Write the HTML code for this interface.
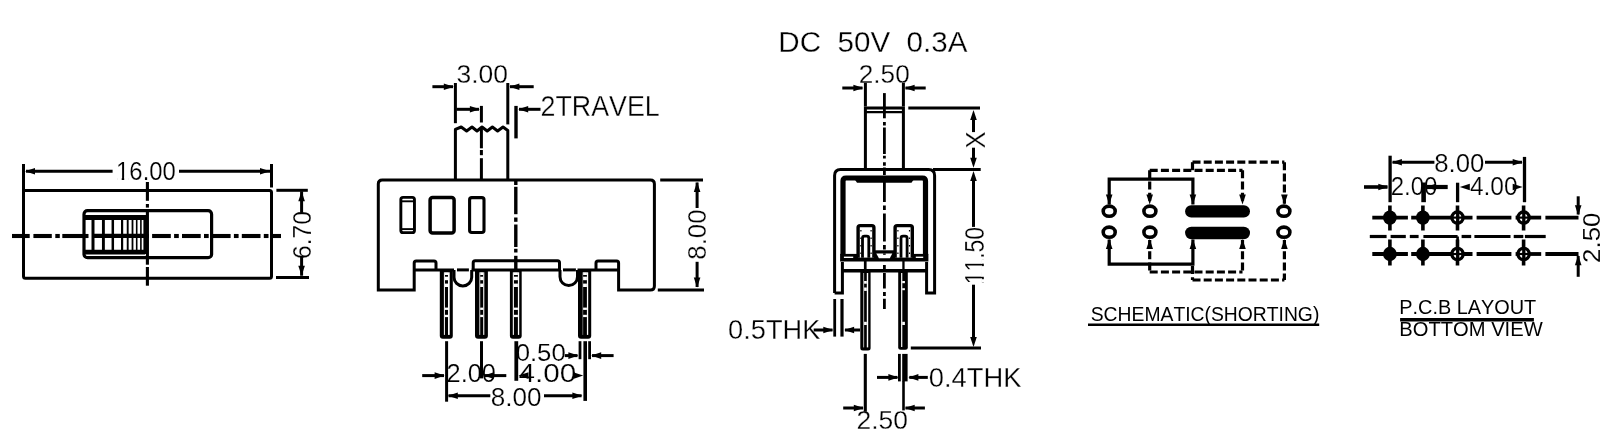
<!DOCTYPE html>
<html><head><meta charset="utf-8"><style>
html,body{margin:0;padding:0;background:#fff;width:1606px;height:437px;overflow:hidden}
svg{display:block;will-change:transform}
text{font-family:"Liberation Sans",sans-serif;fill:#000;stroke:#fff;font-kerning:none}
</style></head><body>
<svg width="1606" height="437" viewBox="0 0 1606 437" stroke="#000" fill="none" stroke-linecap="butt">
<rect x="0" y="0" width="1606" height="437" fill="#fff" stroke="none"/>
<text transform="translate(116.09,179.95) scale(0.9519,1)" font-size="25.07" stroke-width="0.18">16.00</text>
<text transform="translate(310.85,259.03) rotate(-90) scale(0.9680,1)" font-size="25.49" stroke-width="0.21">6.70</text>
<text transform="translate(456.44,82.94) scale(1.0104,1)" font-size="26.20" stroke-width="0.25">3.00</text>
<text transform="translate(540.56,115.60) scale(0.9384,1)" font-size="28.57" stroke-width="0.30">2TRAVEL</text>
<text transform="translate(515.67,360.85) scale(1.0376,1)" font-size="24.79" stroke-width="0.17">0.50</text>
<text transform="translate(446.53,381.64) scale(0.9813,1)" font-size="25.92" stroke-width="0.23">2.00</text>
<text transform="translate(518.51,381.64) scale(1.1454,1)" font-size="25.92" stroke-width="0.23">4.00</text>
<text transform="translate(490.86,405.74) scale(1.0015,1)" font-size="26.06" stroke-width="0.24">8.00</text>
<text transform="translate(705.74,259.63) rotate(-90) scale(0.9734,1)" font-size="26.48" stroke-width="0.27">8.00</text>
<text transform="translate(778.33,52.20) scale(0.9726,1)" font-size="30.42" stroke-width="0.30">DC&#160;&#160;50V&#160;&#160;0.3A</text>
<text transform="translate(858.79,82.54) scale(0.9888,1)" font-size="26.48" stroke-width="0.27">2.50</text>
<text transform="translate(985.30,148.47) rotate(-90) scale(0.9143,1)" font-size="27.97" stroke-width="0.30">X</text>
<text transform="translate(983.93,284.24) rotate(-90) scale(0.8440,1)" font-size="27.18" stroke-width="0.30">11.50</text>
<text transform="translate(728.11,338.62) scale(0.9611,1)" font-size="28.31" stroke-width="0.30">0.5THK</text>
<text transform="translate(928.71,386.62) scale(0.9761,1)" font-size="28.03" stroke-width="0.30">0.4THK</text>
<text transform="translate(856.58,428.84) scale(1.0043,1)" font-size="26.34" stroke-width="0.26">2.50</text>
<text transform="translate(1090.73,320.50) scale(0.9801,1)" font-size="19.72" stroke-width="0.00">SCHEMATIC(SHORTING)</text>
<text transform="translate(1434.27,171.54) scale(0.9946,1)" font-size="25.92" stroke-width="0.23">8.00</text>
<text transform="translate(1390.70,194.84) scale(0.9203,1)" font-size="26.06" stroke-width="0.24">2.00</text>
<text transform="translate(1469.91,194.84) scale(0.9422,1)" font-size="26.06" stroke-width="0.24">4.00</text>
<text transform="translate(1600.16,262.89) rotate(-90) scale(1.0906,1)" font-size="23.66" stroke-width="0.10">2.50</text>
<text transform="translate(1399.31,313.60) scale(1.0012,1)" font-size="19.86" stroke-width="0.00">P.C.B LAYOUT</text>
<text transform="translate(1399.29,335.89) scale(0.9809,1)" font-size="20.56" stroke-width="0.00">BOTTOM VIEW</text>
<path d="M23.5,164 V276.2 Q23.5,278.2 25.5,278.2 H269.5 Q271.5,278.2 271.5,276.2 V192.5 Q271.5,190.5 269.5,190.5 H23.5" stroke-width="3.0" fill="none" />
<line x1="271.5" y1="164" x2="271.5" y2="187.5" stroke-width="3.0" />
<line x1="26" y1="171.3" x2="112.6" y2="171.3" stroke-width="3.0" />
<line x1="179" y1="171.3" x2="270" y2="171.3" stroke-width="3.0" />
<polygon points="25,171.3 35,168.0 35,174.60000000000002" stroke="none" fill="#000"/>
<polygon points="270,171.3 260,168.0 260,174.60000000000002" stroke="none" fill="#000"/>
<line x1="147.4" y1="182" x2="147.4" y2="200.8" stroke-width="3.1" />
<line x1="147.4" y1="204" x2="147.4" y2="207.6" stroke-width="3.1" />
<line x1="147.4" y1="209.2" x2="147.4" y2="264.7" stroke-width="3.1" />
<line x1="147.4" y1="267" x2="147.4" y2="285.7" stroke-width="3.1" />
<line x1="12" y1="236" x2="29.7" y2="236" stroke-width="4.1" />
<line x1="33.4" y1="236" x2="51.8" y2="236" stroke-width="4.1" />
<line x1="55.3" y1="236" x2="59.8" y2="236" stroke-width="4.1" />
<line x1="62.3" y1="236" x2="88.5" y2="236" stroke-width="4.1" />
<line x1="148" y1="236" x2="148.9" y2="236" stroke-width="4.1" />
<line x1="152.1" y1="236" x2="170.8" y2="236" stroke-width="4.1" />
<line x1="174.1" y1="236" x2="178.8" y2="236" stroke-width="4.1" />
<line x1="182.0" y1="236" x2="200.7" y2="236" stroke-width="4.1" />
<line x1="204.0" y1="236" x2="208.7" y2="236" stroke-width="4.1" />
<line x1="211.9" y1="236" x2="230.6" y2="236" stroke-width="4.1" />
<line x1="233.9" y1="236" x2="238.6" y2="236" stroke-width="4.1" />
<line x1="241.8" y1="236" x2="260.5" y2="236" stroke-width="4.1" />
<line x1="263.8" y1="236" x2="268.5" y2="236" stroke-width="4.1" />
<line x1="271.7" y1="236" x2="281" y2="236" stroke-width="4.1" />
<rect x="84" y="210.7" width="127.6" height="47" rx="3.5" fill="none" stroke-width="3.2"/>
<line x1="83.5" y1="217.6" x2="145" y2="217.6" stroke-width="5.0" />
<line x1="83.5" y1="252.1" x2="145" y2="252.1" stroke-width="4.7" />
<line x1="93.0" y1="217" x2="93.0" y2="252.5" stroke-width="3.0" />
<line x1="103.4" y1="217" x2="103.4" y2="252.5" stroke-width="2.9" />
<line x1="112.8" y1="217" x2="112.8" y2="252.5" stroke-width="2.5" />
<line x1="122.1" y1="217" x2="122.1" y2="252.5" stroke-width="2.2" />
<line x1="127.7" y1="217" x2="127.7" y2="252.5" stroke-width="1.9" />
<line x1="132.5" y1="217" x2="132.5" y2="252.5" stroke-width="1.8" />
<line x1="136.7" y1="217" x2="136.7" y2="252.5" stroke-width="1.6" />
<line x1="140.9" y1="217" x2="140.9" y2="252.5" stroke-width="1.6" />
<line x1="145.8" y1="215" x2="145.8" y2="254" stroke-width="4.8" />
<line x1="92" y1="235.8" x2="146" y2="235.8" stroke-width="4.3" />
<line x1="276.4" y1="190.3" x2="307.8" y2="190.3" stroke-width="3.0" />
<line x1="276" y1="277.5" x2="309" y2="277.5" stroke-width="3.0" />
<line x1="301.6" y1="191.3" x2="301.6" y2="212.7" stroke-width="3.0" />
<line x1="301.6" y1="256.8" x2="301.6" y2="275.7" stroke-width="3.0" />
<polygon points="301.6,191.3 298.3,201.3 304.90000000000003,201.3" stroke="none" fill="#000"/>
<polygon points="301.6,275.7 298.3,265.7 304.90000000000003,265.7" stroke="none" fill="#000"/>
<path d="M455.4,180 V129.4 L461.2,127 L466.6,131 L472,127 L477,131 L482,127 L487.2,131 L492.4,127 L497.6,131 L503,127 L507.8,130.5 V180" stroke-width="3.0" fill="none" stroke-linejoin="round"/>
<line x1="481.4" y1="127" x2="481.4" y2="148.3" stroke-width="3.0" />
<line x1="481.4" y1="150" x2="481.4" y2="155.2" stroke-width="3.0" />
<line x1="481.4" y1="158.2" x2="481.4" y2="180" stroke-width="3.0" />
<line x1="455.4" y1="83" x2="455.4" y2="123.2" stroke-width="3.0" />
<line x1="507.8" y1="83" x2="507.8" y2="124.4" stroke-width="3.0" />
<line x1="432.4" y1="86.7" x2="453" y2="86.7" stroke-width="3.0" />
<line x1="510" y1="86.7" x2="533.7" y2="86.7" stroke-width="3.0" />
<polygon points="453.8,86.7 443.8,83.4 443.8,90.0" stroke="none" fill="#000"/>
<polygon points="509.4,86.7 519.4,83.4 519.4,90.0" stroke="none" fill="#000"/>
<line x1="481.4" y1="105.9" x2="481.4" y2="122.5" stroke-width="3.0" />
<line x1="516" y1="105.9" x2="516" y2="138.4" stroke-width="3.4" />
<line x1="456.5" y1="109.3" x2="479" y2="109.3" stroke-width="3.0" />
<polygon points="479.9,109.3 469.9,106.0 469.9,112.6" stroke="none" fill="#000"/>
<line x1="519" y1="109.3" x2="540.5" y2="109.3" stroke-width="3.0" />
<polygon points="518.2,109.3 528.2,106.0 528.2,112.6" stroke="none" fill="#000"/>
<path d="M414.2,269.9 V290.1 H378.3 V184 Q378.3,180 382.3,180 H650.4 Q654.4,180 654.4,184 V286.1 Q654.4,290.1 650.4,290.1 H618.6 V269.9" stroke-width="3.0" fill="none" />
<path d="M414.2,269.9 V263.1 Q414.2,261.1 416.2,261.1 H434 Q436,261.1 436,263.1 V269.9" stroke-width="3.0" fill="none" />
<path d="M473.2,269.9 V262.8 Q473.2,260.8 475.2,260.8 H557.5 Q559.5,260.8 559.5,262.8 V269.9" stroke-width="3.0" fill="none" />
<path d="M596,269.9 V263.1 Q596,261.1 598,261.1 H616.6 Q618.6,261.1 618.6,263.1 V269.9" stroke-width="3.0" fill="none" />
<line x1="414.2" y1="269.9" x2="454" y2="269.9" stroke-width="3.0" />
<line x1="471.7" y1="269.9" x2="560" y2="269.9" stroke-width="3.0" />
<line x1="577.5" y1="269.9" x2="618.6" y2="269.9" stroke-width="3.0" />
<line x1="457" y1="269.9" x2="468.9" y2="269.9" stroke-width="3.0" />
<line x1="563" y1="269.9" x2="575.9" y2="269.9" stroke-width="3.0" />
<path d="M454,269.9 V277.15 A8.85,8.85 0 0 0 471.7,277.15 V269.9" stroke-width="3.0" fill="none" />
<path d="M560,269.9 V276.75 A8.75,8.75 0 0 0 577.5,276.75 V269.9" stroke-width="3.0" fill="none" />
<rect x="400.85" y="197.4" width="13.6" height="35.2" rx="2.2" fill="none" stroke-width="2.9"/>
<line x1="401.5" y1="201.3" x2="413.8" y2="201.3" stroke-width="1.9" />
<line x1="401.5" y1="229.1" x2="413.8" y2="229.1" stroke-width="1.9" />
<rect x="430.1" y="197.6" width="24" height="35.3" rx="2.5" fill="none" stroke-width="3.5"/>
<rect x="469.6" y="197.6" width="14.4" height="34.9" rx="2.2" fill="none" stroke-width="3.1"/>
<line x1="515.8" y1="181" x2="515.8" y2="185" stroke-width="3.4" />
<line x1="515.8" y1="186.8" x2="515.8" y2="214.2" stroke-width="3.4" />
<line x1="515.8" y1="217.5" x2="515.8" y2="221.8" stroke-width="3.4" />
<line x1="515.8" y1="224.5" x2="515.8" y2="247" stroke-width="3.4" />
<line x1="515.8" y1="248.8" x2="515.8" y2="252.5" stroke-width="3.4" />
<line x1="515.8" y1="255.8" x2="515.8" y2="270" stroke-width="3.4" />
<path d="M439.8,269.9 V335.7 Q439.8,338.7 442.8,338.7 H449.8 Q452.8,338.7 452.8,335.7 V269.9 Z" fill="#000" stroke="none"/>
<rect x="443.9" y="272.3" width="5.80" height="62.6" fill="#fff" stroke="none"/>
<rect x="444.9" y="272.3" width="3.10" height="64" fill="#000" stroke="none"/>
<rect x="444.9" y="272.3" width="3.10" height="2.70" fill="#fff" stroke="none"/>
<rect x="444.9" y="276.7" width="3.10" height="3.50" fill="#fff" stroke="none"/>
<rect x="444.9" y="283.6" width="3.10" height="3.40" fill="#fff" stroke="none"/>
<rect x="444.9" y="307.6" width="3.10" height="2.30" fill="#fff" stroke="none"/>
<rect x="444.9" y="314.8" width="3.10" height="2.30" fill="#fff" stroke="none"/>
<path d="M475,269.9 V335.7 Q475,338.7 478,338.7 H484.9 Q487.9,338.7 487.9,335.7 V269.9 Z" fill="#000" stroke="none"/>
<rect x="479.4" y="272.3" width="4.90" height="62.6" fill="#fff" stroke="none"/>
<rect x="480.2" y="272.3" width="3.00" height="64" fill="#000" stroke="none"/>
<rect x="480.2" y="272.3" width="3.00" height="2.70" fill="#fff" stroke="none"/>
<rect x="480.2" y="276.7" width="3.00" height="3.50" fill="#fff" stroke="none"/>
<rect x="480.2" y="283.6" width="3.00" height="3.40" fill="#fff" stroke="none"/>
<rect x="480.2" y="307.6" width="3.00" height="2.30" fill="#fff" stroke="none"/>
<rect x="480.2" y="314.8" width="3.00" height="2.30" fill="#fff" stroke="none"/>
<path d="M509.9,269.9 V335.7 Q509.9,338.7 512.9,338.7 H518.7 Q521.7,338.7 521.7,335.7 V269.9 Z" fill="#000" stroke="none"/>
<rect x="512.8" y="272.3" width="6.40" height="62.6" fill="#fff" stroke="none"/>
<rect x="513.9" y="272.3" width="4.00" height="64" fill="#000" stroke="none"/>
<rect x="513.9" y="272.3" width="4.00" height="2.70" fill="#fff" stroke="none"/>
<rect x="513.9" y="276.7" width="4.00" height="3.50" fill="#fff" stroke="none"/>
<rect x="513.9" y="283.6" width="4.00" height="3.40" fill="#fff" stroke="none"/>
<rect x="513.9" y="307.6" width="4.00" height="2.30" fill="#fff" stroke="none"/>
<rect x="513.9" y="314.8" width="4.00" height="2.30" fill="#fff" stroke="none"/>
<path d="M578,269.9 V335.7 Q578,338.7 581,338.7 H588.2 Q591.2,338.7 591.2,335.7 V269.9 Z" fill="#000" stroke="none"/>
<rect x="582.7" y="272.3" width="5.50" height="62.6" fill="#fff" stroke="none"/>
<rect x="583.1" y="272.3" width="3.80" height="64" fill="#000" stroke="none"/>
<rect x="583.1" y="272.3" width="3.80" height="2.70" fill="#fff" stroke="none"/>
<rect x="583.1" y="276.7" width="3.80" height="3.50" fill="#fff" stroke="none"/>
<rect x="583.1" y="283.6" width="3.80" height="3.40" fill="#fff" stroke="none"/>
<rect x="583.1" y="307.6" width="3.80" height="2.30" fill="#fff" stroke="none"/>
<rect x="583.1" y="314.8" width="3.80" height="2.30" fill="#fff" stroke="none"/>
<line x1="446.6" y1="341.2" x2="446.6" y2="401.7" stroke-width="3.0" />
<line x1="481.5" y1="341.2" x2="481.5" y2="378.4" stroke-width="3.0" />
<line x1="516.3" y1="341.2" x2="516.3" y2="380.8" stroke-width="3.8" />
<line x1="585.2" y1="341.2" x2="585.2" y2="400.9" stroke-width="3.6" />
<line x1="580" y1="341.2" x2="580" y2="359.2" stroke-width="2.8" />
<line x1="589.6" y1="341.2" x2="589.6" y2="359.2" stroke-width="2.8" />
<line x1="564.8" y1="355.6" x2="577.5" y2="355.6" stroke-width="3.0" />
<polygon points="578.4,355.6 568.4,352.3 568.4,358.90000000000003" stroke="none" fill="#000"/>
<line x1="592" y1="355.6" x2="613.6" y2="355.6" stroke-width="3.0" />
<polygon points="591.2,355.6 601.2,352.3 601.2,358.90000000000003" stroke="none" fill="#000"/>
<line x1="422.2" y1="375.6" x2="444" y2="375.6" stroke-width="3.0" />
<polygon points="444.6,375.6 434.6,372.3 434.6,378.90000000000003" stroke="none" fill="#000"/>
<line x1="484.5" y1="375.6" x2="506.3" y2="375.6" stroke-width="3.0" />
<polygon points="483.9,375.6 493.9,372.3 493.9,378.90000000000003" stroke="none" fill="#000"/>
<polygon points="518.5,375.6 528.5,372.3 528.5,378.90000000000003" stroke="none" fill="#000"/>
<polygon points="583.2,375.6 573.2,372.3 573.2,378.90000000000003" stroke="none" fill="#000"/>
<line x1="448.5" y1="395.7" x2="490.3" y2="395.7" stroke-width="3.0" />
<polygon points="447.8,395.7 457.8,392.4 457.8,399.0" stroke="none" fill="#000"/>
<line x1="544" y1="395.7" x2="581.6" y2="395.7" stroke-width="3.0" />
<polygon points="582.4,395.7 572.4,392.4 572.4,399.0" stroke="none" fill="#000"/>
<line x1="660.2" y1="180" x2="703" y2="180" stroke-width="3.0" />
<line x1="657.8" y1="289.9" x2="704" y2="289.9" stroke-width="3.0" />
<line x1="697.1" y1="182.5" x2="697.1" y2="208" stroke-width="3.0" />
<line x1="697.1" y1="261.8" x2="697.1" y2="287" stroke-width="3.0" />
<polygon points="697.1,181.9 693.8000000000001,191.9 700.4,191.9" stroke="none" fill="#000"/>
<polygon points="697.1,287.5 693.8000000000001,277.5 700.4,277.5" stroke="none" fill="#000"/>
<line x1="842.3" y1="88" x2="862.5" y2="88" stroke-width="3.0" />
<polygon points="863.4,88 853.4,84.7 853.4,91.3" stroke="none" fill="#000"/>
<line x1="905.5" y1="88" x2="925.7" y2="88" stroke-width="3.0" />
<polygon points="904.6,88 914.6,84.7 914.6,91.3" stroke="none" fill="#000"/>
<line x1="865.4" y1="82.8" x2="865.4" y2="106.5" stroke-width="3.0" />
<line x1="903.4" y1="82.8" x2="903.4" y2="106.5" stroke-width="3.0" />
<line x1="884.4" y1="93.1" x2="884.4" y2="118.3" stroke-width="2.8" />
<path d="M865.4,169.3 V108 H903.4 V169.3" stroke-width="3.0" fill="none" />
<line x1="865.4" y1="112.2" x2="903.4" y2="112.2" stroke-width="2.2" />
<line x1="884.4" y1="122" x2="884.4" y2="175" stroke-width="2.8" stroke-dasharray="3.6 1.8 26.6 1.8 2.7 3.7" stroke-dashoffset="0"/>
<line x1="908.3" y1="108" x2="980" y2="108" stroke-width="3.0" />
<line x1="933" y1="169.4" x2="980.7" y2="169.4" stroke-width="3.0" />
<line x1="973.5" y1="119" x2="973.5" y2="132.1" stroke-width="3.0" />
<line x1="973.5" y1="147.7" x2="973.5" y2="158.5" stroke-width="3.0" />
<polygon points="973.5,110.1 970.2,120.1 976.8,120.1" stroke="none" fill="#000"/>
<polygon points="973.5,167.8 970.2,157.8 976.8,157.8" stroke="none" fill="#000"/>
<path d="M834.6,293 V175.5 Q834.6,169.5 840.6,169.5 H928.6 Q934.6,169.5 934.6,175.5 V293 H926.6 V271" stroke-width="3.0" fill="none" />
<path d="M834.6,293 H842.4 V262" stroke-width="3.0" fill="none" />
<line x1="926.6" y1="262" x2="926.6" y2="271" stroke-width="3.0" />
<path d="M843,254.8 V181 Q843,178 846,178 H922.5 Q925.5,178 925.5,181 V254.8" stroke-width="5.2" fill="none" />
<path d="M853,177 L857,182.7 H911.5 L915.5,177 Z" fill="#000" stroke="none"/>
<rect x="840.1" y="253.9" width="88.3" height="7.6" fill="#000" stroke="none"/>
<rect x="873" y="250.3" width="23" height="4" fill="#000" stroke="none"/>
<polygon points="876.3,253.4 892.3,253.4 889.8,258.2 878.9,258.2" fill="#fff" stroke="none"/>
<rect x="843.9" y="256.6" width="9.3" height="1.4" fill="#fff" stroke="none"/>
<rect x="915.8" y="256.6" width="7.4" height="1.4" fill="#fff" stroke="none"/>
<line x1="841" y1="270.7" x2="928" y2="270.7" stroke-width="3.6" />
<line x1="865.25" y1="261" x2="865.25" y2="269" stroke-width="2.7" />
<line x1="903.45" y1="261" x2="903.45" y2="269" stroke-width="2.3" />
<line x1="884.4" y1="265" x2="884.4" y2="269" stroke-width="2.8" />
<rect x="858.1" y="225.6" width="15.8" height="32" fill="#fff" stroke="none"/>
<path d="M858.1,257.8 V227.6 Q858.1,225.6 860.1,225.6 H871.9 Q873.9,225.6 873.9,227.6 V257.8" stroke-width="3.4" fill="none" />
<path d="M862.5,257.8 V238.2 Q862.5,236.2 864.5,236.2 H866.8 Q868.8,236.2 868.8,238.2 V257.8" stroke-width="2.8" fill="none" />
<line x1="860.9" y1="230" x2="860.9" y2="257" stroke-width="1.2" stroke-dasharray="1.5 6" stroke-dashoffset="0"/>
<line x1="871.1" y1="230" x2="871.1" y2="257" stroke-width="1.2" stroke-dasharray="1.5 6" stroke-dashoffset="0"/>
<rect x="895.1" y="225.6" width="17.2" height="32" fill="#fff" stroke="none"/>
<path d="M895.1,257.8 V227.6 Q895.1,225.6 897.1,225.6 H910.3 Q912.3,225.6 912.3,227.6 V257.8" stroke-width="3.4" fill="none" />
<path d="M901,257.8 V238.2 Q901,236.2 903,236.2 H905.1 Q907.1,236.2 907.1,238.2 V257.8" stroke-width="2.8" fill="none" />
<line x1="897.9" y1="230" x2="897.9" y2="257" stroke-width="1.2" stroke-dasharray="1.5 6" stroke-dashoffset="0"/>
<line x1="909.5" y1="230" x2="909.5" y2="257" stroke-width="1.2" stroke-dasharray="1.5 6" stroke-dashoffset="0"/>
<line x1="884.4" y1="179" x2="884.4" y2="250" stroke-width="2.8" stroke-dasharray="28 3.5 4.5 3.5" stroke-dashoffset="5"/>
<rect x="883.1" y="253.4" width="2.6" height="1.4" fill="#000" stroke="none"/>
<line x1="884.4" y1="273" x2="884.4" y2="309" stroke-width="2.8" stroke-dasharray="15.5 3.5 4 2.8 20" stroke-dashoffset="0"/>
<path d="M860.3,271 V348.1 Q860.3,350.6 862.8,350.6 H868.1 Q870.6,350.6 870.6,348.1 V271 Z" fill="#000" stroke="none"/>
<rect x="863.4" y="273" width="4.8" height="74.4" fill="#fff" stroke="none"/>
<rect x="864.1" y="273" width="2.7" height="76" fill="#000" stroke="none"/>
<rect x="864.1" y="281" width="2.7" height="2.7" fill="#fff" stroke="none"/>
<rect x="864.1" y="287.5" width="2.7" height="3.4" fill="#fff" stroke="none"/>
<rect x="864.1" y="321.8" width="2.7" height="3.2" fill="#fff" stroke="none"/>
<path d="M898.2,271 V347.2 Q898.2,349.7 900.7,349.7 H905.3 Q907.8,349.7 907.8,347.2 V271 Z" fill="#000" stroke="none"/>
<rect x="901.1" y="273" width="1.2" height="74" fill="#fff" stroke="none"/>
<rect x="902.2" y="281" width="2.7" height="2.2" fill="#fff" stroke="none"/>
<rect x="902.2" y="288.2" width="2.7" height="2.0" fill="#fff" stroke="none"/>
<rect x="902.2" y="321.8" width="2.7" height="3.2" fill="#fff" stroke="none"/>
<line x1="910.8" y1="348.1" x2="981" y2="348.1" stroke-width="3.0" />
<line x1="973.5" y1="181" x2="973.5" y2="226.9" stroke-width="3.0" />
<line x1="973.5" y1="284.7" x2="973.5" y2="337" stroke-width="3.0" />
<polygon points="973.5,171 970.2,181 976.8,181" stroke="none" fill="#000"/>
<polygon points="973.5,347 970.2,337 976.8,337" stroke="none" fill="#000"/>
<line x1="834.7" y1="299" x2="834.7" y2="336.6" stroke-width="2.8" />
<line x1="842" y1="299" x2="842" y2="336.6" stroke-width="3.2" />
<line x1="813.7" y1="330" x2="832.5" y2="330" stroke-width="3.0" />
<polygon points="833.3,330 823.3,326.7 823.3,333.3" stroke="none" fill="#000"/>
<line x1="845" y1="330" x2="860" y2="330" stroke-width="3.0" />
<polygon points="844.1,330 854.1,326.7 854.1,333.3" stroke="none" fill="#000"/>
<line x1="865.3" y1="353.9" x2="865.3" y2="411.8" stroke-width="3.1" />
<line x1="899.4" y1="353.9" x2="899.4" y2="381.4" stroke-width="2.8" />
<line x1="904.9" y1="353.9" x2="904.9" y2="381.4" stroke-width="5.4" />
<line x1="903.5" y1="381" x2="903.5" y2="410.4" stroke-width="2.6" />
<line x1="877" y1="377.4" x2="897.5" y2="377.4" stroke-width="3.0" />
<polygon points="898.4,377.4 888.4,374.09999999999997 888.4,380.7" stroke="none" fill="#000"/>
<line x1="909.3" y1="377.4" x2="927.8" y2="377.4" stroke-width="3.0" />
<polygon points="908.4,377.4 918.4,374.09999999999997 918.4,380.7" stroke="none" fill="#000"/>
<line x1="843.2" y1="408" x2="863" y2="408" stroke-width="3.0" />
<polygon points="863.8,408 853.8,404.7 853.8,411.3" stroke="none" fill="#000"/>
<line x1="905.5" y1="408" x2="924.9" y2="408" stroke-width="3.0" />
<polygon points="904.7,408 914.7,404.7 914.7,411.3" stroke="none" fill="#000"/>
<ellipse cx="1109.2" cy="211.2" rx="6.0" ry="5.1" fill="none" stroke-width="3.6"/>
<ellipse cx="1109.2" cy="232.2" rx="6.0" ry="5.1" fill="none" stroke-width="3.6"/>
<ellipse cx="1149.9" cy="211.2" rx="6.0" ry="5.1" fill="none" stroke-width="3.6"/>
<ellipse cx="1149.9" cy="232.2" rx="6.0" ry="5.1" fill="none" stroke-width="3.6"/>
<ellipse cx="1283.9" cy="211.2" rx="6.0" ry="5.1" fill="none" stroke-width="3.6"/>
<ellipse cx="1283.9" cy="232.2" rx="6.0" ry="5.1" fill="none" stroke-width="3.6"/>
<rect x="1185.1" y="205.2" width="64.9" height="12.3" rx="6.1" fill="#000" stroke="none"/>
<rect x="1185.1" y="226.8" width="64.9" height="12.4" rx="6.2" fill="#000" stroke="none"/>
<path d="M1109.2,204.5 V179.2 H1192.9 V204.5" stroke-width="3.2" fill="none" />
<polygon points="1109.2,204.5 1105.9,194.5 1112.5,194.5" stroke="none" fill="#000"/>
<polygon points="1192.9,204.5 1189.6000000000001,194.5 1196.2,194.5" stroke="none" fill="#000"/>
<line x1="1149.7" y1="170.3" x2="1242.5" y2="170.3" stroke-width="3.2" stroke-dasharray="8 3.2" stroke-dashoffset="0"/>
<line x1="1149.7" y1="170.3" x2="1149.7" y2="204" stroke-width="3.2" stroke-dasharray="8 3.2" stroke-dashoffset="0"/>
<line x1="1242.5" y1="170.3" x2="1242.5" y2="204" stroke-width="3.2" stroke-dasharray="8 3.2" stroke-dashoffset="0"/>
<polygon points="1149.7,204.5 1146.4,194.5 1153.0,194.5" stroke="none" fill="#000"/>
<polygon points="1242.5,204.5 1239.2,194.5 1245.8,194.5" stroke="none" fill="#000"/>
<line x1="1192.5" y1="162.2" x2="1284.4" y2="162.2" stroke-width="3.2" stroke-dasharray="8 3.2" stroke-dashoffset="0"/>
<line x1="1192.5" y1="162.2" x2="1192.5" y2="172" stroke-width="3.2" stroke-dasharray="8 3.2" stroke-dashoffset="0"/>
<line x1="1284.4" y1="162.2" x2="1284.4" y2="204" stroke-width="3.2" stroke-dasharray="8 3.2" stroke-dashoffset="0"/>
<polygon points="1284.4,204.5 1281.1000000000001,194.5 1287.7,194.5" stroke="none" fill="#000"/>
<path d="M1109.2,239.5 V264.2 H1192.9 V239.5" stroke-width="3.2" fill="none" />
<polygon points="1109.2,239 1105.9,249 1112.5,249" stroke="none" fill="#000"/>
<polygon points="1192.9,239 1189.6000000000001,249 1196.2,249" stroke="none" fill="#000"/>
<line x1="1149.7" y1="272" x2="1242.5" y2="272" stroke-width="3.2" stroke-dasharray="8 3.2" stroke-dashoffset="0"/>
<line x1="1149.7" y1="240" x2="1149.7" y2="272" stroke-width="3.2" stroke-dasharray="8 3.2" stroke-dashoffset="0"/>
<line x1="1242.5" y1="240" x2="1242.5" y2="272" stroke-width="3.2" stroke-dasharray="8 3.2" stroke-dashoffset="0"/>
<polygon points="1149.7,239 1146.4,249 1153.0,249" stroke="none" fill="#000"/>
<polygon points="1242.5,239 1239.2,249 1245.8,249" stroke="none" fill="#000"/>
<line x1="1192.5" y1="280" x2="1284.4" y2="280" stroke-width="3.2" stroke-dasharray="8 3.2" stroke-dashoffset="0"/>
<line x1="1192.5" y1="266" x2="1192.5" y2="280" stroke-width="3.2" stroke-dasharray="8 3.2" stroke-dashoffset="0"/>
<line x1="1284.4" y1="240" x2="1284.4" y2="280" stroke-width="3.2" stroke-dasharray="8 3.2" stroke-dashoffset="0"/>
<polygon points="1284.4,239 1281.1000000000001,249 1287.7,249" stroke="none" fill="#000"/>
<line x1="1088" y1="324.7" x2="1319.2" y2="324.7" stroke-width="2.6" />
<line x1="1372.3" y1="217.6" x2="1407.9" y2="217.6" stroke-width="3.8" />
<line x1="1411.2" y1="217.6" x2="1472.5" y2="217.6" stroke-width="3.8" />
<line x1="1476.6" y1="217.6" x2="1511.4" y2="217.6" stroke-width="3.8" />
<line x1="1515.6" y1="217.6" x2="1541.2" y2="217.6" stroke-width="3.8" />
<line x1="1545.4" y1="217.6" x2="1578.5" y2="217.6" stroke-width="3.8" />
<line x1="1372.3" y1="254.0" x2="1407.9" y2="254.0" stroke-width="3.8" />
<line x1="1411.2" y1="254.0" x2="1472.5" y2="254.0" stroke-width="3.8" />
<line x1="1476.6" y1="254.0" x2="1511.4" y2="254.0" stroke-width="3.8" />
<line x1="1515.6" y1="254.0" x2="1541.2" y2="254.0" stroke-width="3.8" />
<line x1="1545.4" y1="254.0" x2="1578.5" y2="254.0" stroke-width="3.8" />
<line x1="1369.8" y1="236.5" x2="1386.6" y2="236.5" stroke-width="3.2" />
<line x1="1390.6" y1="236.5" x2="1405.8" y2="236.5" stroke-width="3.2" />
<line x1="1409.8" y1="236.5" x2="1418.6" y2="236.5" stroke-width="3.2" />
<line x1="1423.4" y1="236.5" x2="1457.6" y2="236.5" stroke-width="3.2" />
<line x1="1461.6" y1="236.5" x2="1471.2" y2="236.5" stroke-width="3.2" />
<line x1="1474.4" y1="236.5" x2="1510.5" y2="236.5" stroke-width="3.2" />
<line x1="1513.7" y1="236.5" x2="1523.3" y2="236.5" stroke-width="3.2" />
<line x1="1524.9" y1="236.5" x2="1545.7" y2="236.5" stroke-width="3.2" />
<line x1="1457.6" y1="236.5" x2="1457.6" y2="241.5" stroke-width="2.6" />
<line x1="1389.9" y1="205.5" x2="1389.9" y2="230.5" stroke-width="3.6" />
<line x1="1389.9" y1="239.5" x2="1389.9" y2="265.5" stroke-width="3.6" />
<line x1="1422.9" y1="205.5" x2="1422.9" y2="230.5" stroke-width="3.6" />
<line x1="1422.9" y1="239.5" x2="1422.9" y2="265.5" stroke-width="3.6" />
<line x1="1457.5" y1="205.5" x2="1457.5" y2="230.5" stroke-width="3.6" />
<line x1="1457.5" y1="239.5" x2="1457.5" y2="265.5" stroke-width="3.6" />
<line x1="1523.6" y1="205.5" x2="1523.6" y2="230.5" stroke-width="3.6" />
<line x1="1523.6" y1="239.5" x2="1523.6" y2="265.5" stroke-width="3.6" />
<ellipse cx="1389.9" cy="217.6" rx="6.9" ry="7.2" fill="#000" stroke="none"/>
<ellipse cx="1389.9" cy="254.0" rx="6.9" ry="7.2" fill="#000" stroke="none"/>
<ellipse cx="1422.9" cy="217.6" rx="6.9" ry="7.2" fill="#000" stroke="none"/>
<ellipse cx="1422.9" cy="254.0" rx="6.9" ry="7.2" fill="#000" stroke="none"/>
<ellipse cx="1457.5" cy="217.6" rx="5.6" ry="5.6" fill="#fff" stroke-width="3.4"/>
<line x1="1457.7" y1="211.6" x2="1457.7" y2="223.6" stroke-width="3.3" />
<line x1="1452.5" y1="217.6" x2="1462.5" y2="217.6" stroke-width="2.2" />
<ellipse cx="1457.5" cy="254.0" rx="5.6" ry="5.6" fill="#fff" stroke-width="3.4"/>
<line x1="1457.7" y1="248.0" x2="1457.7" y2="260.0" stroke-width="3.3" />
<line x1="1452.5" y1="254.0" x2="1462.5" y2="254.0" stroke-width="2.2" />
<ellipse cx="1523.6" cy="217.6" rx="5.6" ry="5.6" fill="#fff" stroke-width="3.4"/>
<line x1="1523.8" y1="211.6" x2="1523.8" y2="223.6" stroke-width="3.3" />
<line x1="1518.6" y1="217.6" x2="1528.6" y2="217.6" stroke-width="2.2" />
<ellipse cx="1523.6" cy="254.0" rx="5.6" ry="5.6" fill="#fff" stroke-width="3.4"/>
<line x1="1523.8" y1="248.0" x2="1523.8" y2="260.0" stroke-width="3.3" />
<line x1="1518.6" y1="254.0" x2="1528.6" y2="254.0" stroke-width="2.2" />
<line x1="1390.1" y1="155.7" x2="1390.1" y2="202.2" stroke-width="3.3" />
<line x1="1423.6" y1="182.5" x2="1423.6" y2="202.2" stroke-width="4.6" />
<line x1="1457.6" y1="182.7" x2="1457.6" y2="202.2" stroke-width="3.3" />
<line x1="1524.5" y1="156.9" x2="1524.5" y2="202.2" stroke-width="3.3" />
<line x1="1392.5" y1="162.3" x2="1434.4" y2="162.3" stroke-width="3.0" />
<polygon points="1391.9,162.3 1401.9,159.0 1401.9,165.60000000000002" stroke="none" fill="#000"/>
<line x1="1485" y1="162.3" x2="1522" y2="162.3" stroke-width="3.0" />
<polygon points="1522.7,162.3 1512.7,159.0 1512.7,165.60000000000002" stroke="none" fill="#000"/>
<line x1="1364" y1="187.0" x2="1387.5" y2="187.0" stroke-width="3.6" />
<polygon points="1388.3,187.0 1378.3,183.7 1378.3,190.3" stroke="none" fill="#000"/>
<line x1="1426.5" y1="187.0" x2="1447.7" y2="187.0" stroke-width="4.2" />
<polygon points="1425.8,187.0 1435.8,183.7 1435.8,190.3" stroke="none" fill="#000"/>
<polygon points="1459.8,187.0 1469.8,183.7 1469.8,190.3" stroke="none" fill="#000"/>
<polygon points="1522.7,187.0 1512.7,183.7 1512.7,190.3" stroke="none" fill="#000"/>
<line x1="1578.2" y1="196.3" x2="1578.2" y2="214.5" stroke-width="3.0" />
<polygon points="1578.2,215.2 1574.9,205.2 1581.5,205.2" stroke="none" fill="#000"/>
<line x1="1578.2" y1="256" x2="1578.2" y2="276.8" stroke-width="3.0" />
<polygon points="1578.2,255.2 1574.9,265.2 1581.5,265.2" stroke="none" fill="#000"/>
<line x1="1400.1" y1="319.8" x2="1533.9" y2="319.8" stroke-width="3.4" />
<rect x="117.4" y="177.5" width="4.3" height="2.8" fill="#fff" stroke="none"/>
<rect x="124.2" y="177.5" width="4.2" height="2.8" fill="#fff" stroke="none"/>
<rect x="981.5" y="259.5" width="3.2" height="4.2" fill="#fff" stroke="none"/>
<rect x="981.5" y="266.1" width="3.2" height="3.9" fill="#fff" stroke="none"/>
<rect x="981.5" y="271.8" width="3.2" height="5.0" fill="#fff" stroke="none"/>
<rect x="981.5" y="279.2" width="3.2" height="3.0" fill="#fff" stroke="none"/>
</svg></body></html>
